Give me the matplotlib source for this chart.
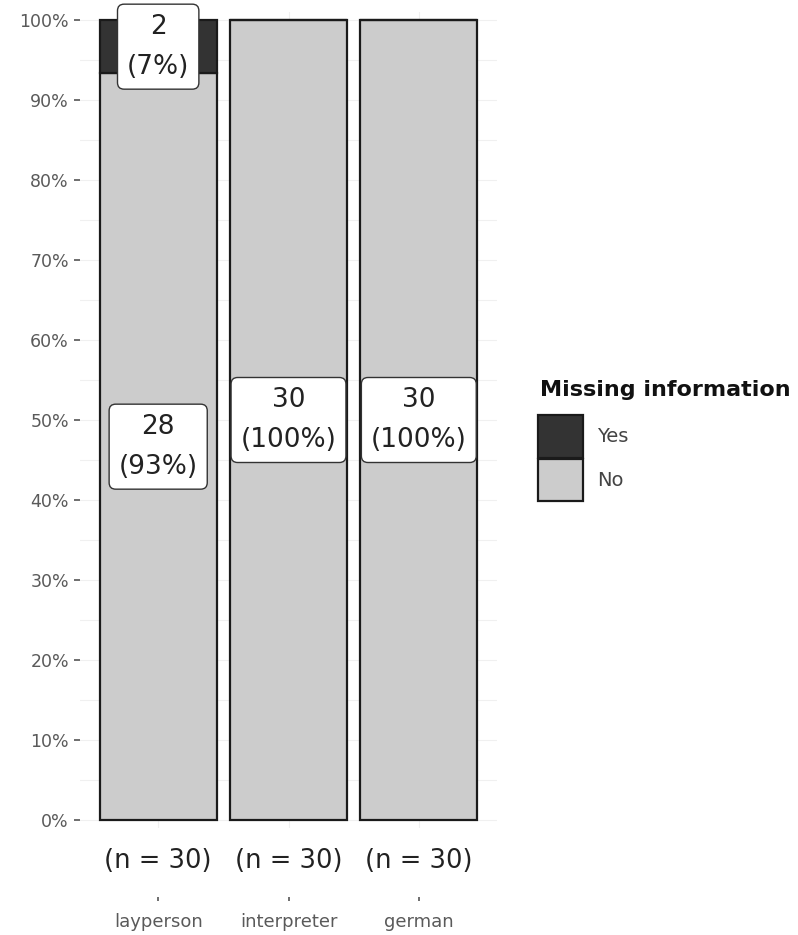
import matplotlib
matplotlib.use("Agg")
import matplotlib.pyplot as plt
from matplotlib.patches import Patch

groups = ["layperson", "interpreter", "german"]
n_yes = [2, 0, 0]
n_no = [28, 30, 30]
pct_yes = [7, 0, 0]
pct_no = [93, 100, 100]
n_total = [30, 30, 30]
legend_labels = ["Yes", "No"]

col_yes = "#333333"
col_no = "#cccccc"
edge = "#1a1a1a"

fig = plt.figure(figsize=(7.98, 9.35), dpi=100)
# panel in pixel terms: x 80..497, y 12..828
ax = fig.add_axes([80/798, 1 - 828/935, 417/798, 816/935])

x = range(len(groups))
tot = [a + b for a, b in zip(n_yes, n_no)]
fr_no = [b / t for b, t in zip(n_no, tot)]
fr_yes = [a / t for a, t in zip(n_yes, tot)]

ax.bar(x, fr_no, width=0.9, color=col_no, edgecolor=edge, linewidth=1.6, zorder=2)
ax.bar(x, fr_yes, width=0.9, bottom=fr_no, color=col_yes, edgecolor=edge, linewidth=1.6, zorder=2)

box = dict(boxstyle="round,pad=0.36,rounding_size=0.25", fc="white", ec="#333333", lw=1.0)
for i in x:
    ax.text(i, fr_no[i] / 2, f"{n_no[i]}\n({pct_no[i]}%)", ha="center", va="center",
            fontsize=19, color="#222222", bbox=box, zorder=3, linespacing=1.7)
    if n_yes[i] > 0:
        ax.text(i, fr_no[i] + fr_yes[i] / 2, f"{n_yes[i]}\n({pct_yes[i]}%)", ha="center", va="center",
                fontsize=19, color="#222222", bbox=box, zorder=3, linespacing=1.7)
    # n labels below panel
    ax.text(i, -0.051, f"(n = {n_total[i]})", ha="center", va="center", fontsize=18.5,
            color="#222222", clip_on=False)

ax.set_xlim(-0.6, 2.6)
ax.set_ylim(-0.01, 1.01)
ax.spines["bottom"].set_position(("outward", 50))
yt = [i / 10 for i in range(11)]
ax.set_yticks(yt)
ax.set_yticklabels([f"{int(v*100)}%" for v in yt], fontsize=12.5, color="#5a5a5a")
ax.set_yticks([i / 10 + 0.05 for i in range(10)], minor=True)
ax.tick_params(axis="y", which="major", length=4, width=1.2, color="#555555", pad=4)
ax.tick_params(axis="y", which="minor", length=0)
ax.set_xticks(list(x))
ax.set_xticklabels(groups, fontsize=13, color="#5a5a5a")
ax.tick_params(axis="x", length=3, width=1.2, color="#555555", pad=8, direction="out")
ax.grid(True, which="both", axis="y", color="#f0f0f0", lw=0.8, zorder=0)
ax.grid(True, which="major", axis="x", color="#f0f0f0", lw=0.8, zorder=0)
for s in ax.spines.values():
    s.set_visible(False)

fig.text(540/798, 1 - 390/935, "Missing information", fontsize=16, fontweight="bold",
         ha="left", va="center", color="#111111")
handles = [Patch(fc=c, ec=edge, lw=1.6, label=l) for c, l in zip([col_yes, col_no], legend_labels)]
leg = fig.legend(handles=handles, loc="upper left",
                 bbox_to_anchor=(538/798, 1 - 415/935), frameon=False, fontsize=14,
                 handlelength=2.3, handleheight=3.0, labelspacing=0.05, handletextpad=0.75,
                 borderaxespad=0, borderpad=0)
for t in leg.get_texts():
    t.set_color("#444444")

fig.savefig("out.png", dpi=100)
